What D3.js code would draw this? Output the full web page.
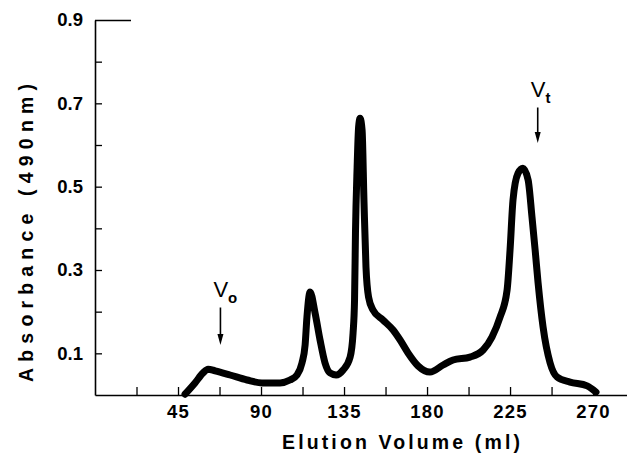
<!DOCTYPE html>
<html>
<head>
<meta charset="utf-8">
<script src="https://cdn.jsdelivr.net/npm/d3@7"></script>
<style>
body{margin:0;background:#fff;}
svg{display:block;font-family:"Liberation Sans",Arial,Helvetica,sans-serif;}
</style>
</head>
<body>
<svg class="Chart"></svg>
<script>
// elution profile
var volume = [48.8, 54.2, 58.6, 61.3, 65.1, 73.2, 82.4, 90.5, 100.3, 105.7,
    109.5, 112.2, 113.9, 114.9, 116.6, 119.3, 122.0, 124.7, 127.4, 130.7,
    134.5, 138.3, 139.9, 140.7, 141.2, 142.1, 142.9, 143.7, 144.8, 145.8,
    146.9, 148.3, 150.7, 156.1, 161.6, 165.4, 169.7, 175.1, 181.6, 188.7,
    194.1, 203.3, 210.4, 215.2, 219.6, 223.4, 225.0, 226.6, 229.3, 232.0,
    234.8, 236.9, 238.6, 240.2, 242.9, 246.7, 250.5, 257.5, 266.8, 271.6];
var absorbance = [0.002, 0.029, 0.053, 0.062, 0.058, 0.048, 0.036, 0.029, 0.029, 0.036,
    0.048, 0.077, 0.120, 0.187, 0.247, 0.197, 0.132, 0.077, 0.053, 0.048,
    0.060, 0.091, 0.149, 0.228, 0.388, 0.547, 0.643, 0.664, 0.635, 0.468,
    0.307, 0.235, 0.204, 0.180, 0.156, 0.132, 0.101, 0.070, 0.055, 0.072,
    0.084, 0.091, 0.108, 0.139, 0.187, 0.252, 0.348, 0.468, 0.532, 0.544,
    0.516, 0.427, 0.348, 0.269, 0.163, 0.077, 0.043, 0.031, 0.022, 0.007];

var xTicks = [22.5, 45, 67.5, 90, 112.5, 135, 157.5, 180, 202.5, 225, 247.5, 270];
var xLabels = [45, 90, 135, 180, 225, 270];
var yTicks = [0.1, 0.2, 0.3, 0.4, 0.5, 0.6, 0.7, 0.8, 0.9];
var yLabels = [0.1, 0.3, 0.5, 0.7, 0.9];

// Vo / Vt markers
var markerSubs = ["o", "t"];
var markerVolume = [68, 240];
var markerFrom = [0.21, 0.69];
var markerTo = [0.12, 0.605];

function drawChart(){
    let width = 627, height = 457;
    let svg = d3.select(".Chart")
        .attr("width", width)
        .attr("height", height);

    let x = d3.scaleLinear().domain([0, 288.4]).range([95, 627]);
    let y = d3.scaleLinear().domain([0, 0.9]).range([395, 20]);

    // y axis, ticks pointing inward
    let yAxis = svg.append("g")
        .attr("transform", "translate(" + x(0) + ",0)")
        .call(d3.axisLeft(y)
            .tickValues(yTicks)
            .tickSizeInner(-7)
            .tickSizeOuter(0)
            .tickFormat(d => yLabels.some(v => Math.abs(v - d) < 1e-6) ? d3.format(".1f")(d) : ""));
    yAxis.select(".domain").attr("stroke-width", 1.6);
    yAxis.selectAll(".tick line").attr("stroke-width", 1.3);
    yAxis.selectAll(".tick line").filter(d => d === 0.9).attr("x2", 36);
    yAxis.selectAll(".tick text")
        .attr("x", -12)
        .attr("font-size", 18.5)
        .attr("font-weight", "bold")
        .attr("fill", "#000");

    // x axis
    let xAxis = svg.append("g")
        .attr("transform", "translate(0," + y(0) + ")")
        .call(d3.axisBottom(x)
            .tickValues(xTicks)
            .tickSizeInner(-8)
            .tickSizeOuter(0)
            .tickFormat(d => xLabels.indexOf(d) >= 0 ? d : ""));
    xAxis.select(".domain").attr("stroke-width", 1.6);
    xAxis.selectAll(".tick line").attr("stroke-width", 1.3);
    xAxis.selectAll(".tick text")
        .attr("y", 23)
        .attr("dy", 0)
        .attr("font-size", 18.5)
        .attr("font-weight", "bold")
        .attr("letter-spacing", 1.2)
        .attr("fill", "#000");

    // axis titles
    svg.append("text")
        .attr("transform", "translate(33,233)rotate(-90)")
        .attr("text-anchor", "middle")
        .attr("font-size", 19.5)
        .attr("font-weight", "bold")
        .attr("textLength", 298)
        .attr("lengthAdjust", "spacing")
        .text("Absorbance (490nm)");

    svg.append("text")
        .attr("x", 401)
        .attr("y", 449)
        .attr("text-anchor", "middle")
        .attr("font-size", 19.5)
        .attr("font-weight", "bold")
        .attr("textLength", 238)
        .attr("lengthAdjust", "spacing")
        .text("Elution Volume (ml)");

    // the curve
    let line = d3.line()
        .x(d => x(d[0]))
        .y(d => y(d[1]))
        .curve(d3.curveMonotoneX);
    svg.append("path")
        .datum(d3.zip(volume, absorbance))
        .attr("fill", "none")
        .attr("stroke", "#000")
        .attr("stroke-width", 7)
        .attr("stroke-linejoin", "round")
        .attr("stroke-linecap", "round")
        .attr("d", line);

    // Vo / Vt arrows
    let marks = svg.selectAll(".marker")
        .data(d3.range(markerSubs.length))
        .join("g")
        .attr("class", "marker");
    marks.append("line")
        .attr("x1", i => x(markerVolume[i]))
        .attr("x2", i => x(markerVolume[i]))
        .attr("y1", i => y(markerFrom[i]))
        .attr("y2", i => y(markerTo[i]) - 6)
        .attr("stroke", "#000")
        .attr("stroke-width", 1.6);
    marks.append("path")
        .attr("d", i => {
            let cx = x(markerVolume[i]), ty = y(markerTo[i]);
            return "M" + (cx - 3) + "," + (ty - 11) + "L" + (cx + 3) + "," + (ty - 11) + "L" + cx + "," + ty + "Z";
        })
        .attr("fill", "#000");
    let lbl = marks.append("text")
        .attr("x", i => x(markerVolume[i]) - 7)
        .attr("y", i => y(markerFrom[i]) - 11)
        .attr("font-size", 22);
    lbl.append("tspan").text("V");
    lbl.append("tspan")
        .attr("dy", 6)
        .attr("font-size", 15)
        .attr("font-weight", "bold")
        .text(i => markerSubs[i]);
}

drawChart();
</script>
</body>
</html>
